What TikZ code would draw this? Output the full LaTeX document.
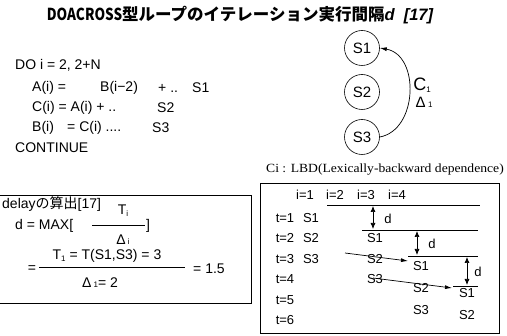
\documentclass[tikz,border=0pt]{standalone}
\usepackage{fontspec}
\setmainfont{Liberation Sans}
\newfontfamily\jp{Noto Sans CJK JP}
\newfontfamily\serifl{Liberation Serif}
\usetikzlibrary{arrows.meta}
\begin{document}
\begin{tikzpicture}[x=1pt,y=-1pt,
  code/.style={anchor=west,inner sep=0pt,font=\fontsize{14}{16}\selectfont},
  rt/.style={inner sep=0pt,font=\fontsize{13}{15}\selectfont},
  lt/.style={inner sep=0pt,font=\fontsize{14}{16}\selectfont},
  stmt/.style={draw,circle,minimum size=35pt,inner sep=0pt,line width=0.6pt,font=\fontsize{15}{17}\selectfont},
  thin/.style={line width=0.6pt},
  dbl/.style={line width=0.7pt,{Latex[length=6pt,width=5pt]}-{Latex[length=6pt,width=5pt]}},
  sarr/.style={line width=0.7pt,-{Latex[length=7pt,width=4pt]}}]
\useasboundingbox (0,0) rectangle (507,336);
% title
\node[inner sep=0pt,font=\fontsize{16.5}{18}\selectfont] (title) at (240,15)
  {{\jp\bfseries\scalebox{0.82}[1]{DOACROSS}型ループのイテレーション実行間隔}{\bfseries\itshape d\ \ [17]}};
% code
\node[code] (c0) at (15,65) {DO i = 2, 2+N};
\node[code] (c1a) at (32,88) {A(i) =};
\node[code] (c1b) at (100,88) {B(i−2)};
\node[code] (c1c) at (158,88) {+ ..};
\node[code] (c1d) at (192,88) {S1};
\node[code] (c2a) at (32,108) {C(i) = A(i) + ..};
\node[code] (c2b) at (157,108) {S2};
\node[code] (c3a) at (32,128) {B(i)};
\node[code] (c3b) at (67,128) {= C(i) ....};
\node[code] (c3c) at (152,128) {S3};
\node[code] (c4) at (15,148) {CONTINUE};
% graph
\node[stmt] (S1) at (362,48) {S1};
\node[stmt] (S2) at (362,92) {S2};
\node[stmt] (S3) at (362,137) {S3};
\draw[sarr] (S3.east) .. controls (418,130) and (420,55) .. (S1.east);
\node[inner sep=0pt,font=\fontsize{18}{20}\selectfont] (C1) at (422,85) {C\raisebox{-2pt}{\fontsize{8}{8}\selectfont 1}};
\node[inner sep=0pt,font=\fontsize{15}{17}\selectfont] (D1) at (424,102) {Δ\,{\fontsize{8}{8}\selectfont 1}};
\node[anchor=west,inner sep=0pt,font=\fontsize{12.5}{14}\serifl] (lbd) at (266,170) {\scalebox{1.09}[1]{Ci : LBD(Lexically-backward dependence)}};
% left box
\draw[line width=0.8pt] (-2,195) -- (251,195) -- (251,303) -- (-2,303);
\node[lt,anchor=west] (dl) at (2,204) {delay{\jp の算出}[17]};
\node[lt,anchor=west] (dmax) at (15,226) {d = MAX[};
\coordinate (f1l) at (92,225);
\coordinate (f1r) at (145,225);
\draw[thin] (f1l) -- (f1r);
\node[lt] (rb) at (148,226) {]};
\node[lt] (Ti) at (123,211) {T\raisebox{-2pt}{\fontsize{8}{8}\selectfont i}};
\node[lt] (Di) at (123,240) {Δ\,{\fontsize{8}{8}\selectfont i}};
\node[lt] (eq1) at (32,269) {=};
\node[lt] (T1) at (107,256) {T\raisebox{-2pt}{\fontsize{8}{8}\selectfont 1} = T(S1,S3) = 3};
\coordinate (f2l) at (39,267);
\coordinate (f2r) at (185,267);
\draw[thin] (f2l) -- (f2r);
\node[lt] (D1b) at (100,283) {Δ\,{\fontsize{8}{8}\selectfont 1}= 2};
\node[lt,anchor=west] (res) at (193,269) {= 1.5};
% right box
\draw[line width=0.8pt] (260,183) rectangle (499,333);
\node[rt] (i1) at (305,195) {i=1};
\node[rt] (i2) at (335,195) {i=2};
\node[rt] (i3) at (366,195) {i=3};
\node[rt] (i4) at (397,195) {i=4};
\foreach \k/\y in {1/218,2/238.5,3/259,4/279.5,5/300,6/320.5}
  \node[rt] (t\k) at (285,\y) {t=\k};
\node[rt] (a1) at (311,218) {S1};
\node[rt] (a2) at (311,238.5) {S2};
\node[rt] (a3) at (311,259) {S3};
\node[rt] (b1) at (375,238.5) {S1};
\node[rt] (b2) at (375,259) {S2};
\node[rt] (b3) at (375,279.5) {S3};
\node[rt] (e1) at (421,266) {S1};
\node[rt] (e2) at (421,288) {S2};
\node[rt] (e3) at (421,310) {S3};
\node[rt] (g1) at (467,293) {S1};
\node[rt] (g2) at (467,315) {S2};
% separator lines
\coordinate (L1a) at (327,205); \coordinate (L1b) at (480,205);
\coordinate (L2a) at (362,230); \coordinate (L2b) at (478,230);
\coordinate (L3a) at (408,256); \coordinate (L3b) at (478,256);
\coordinate (L4a) at (453,286); \coordinate (L4b) at (478,286);
\draw[thin] (L1a) -- (L1b);
\draw[thin] (L2a) -- (L2b);
\draw[thin] (L3a) -- (L3b);
\draw[thin] (L4a) -- (L4b);
% delay arrows
\coordinate (d1t) at (373,206); \coordinate (d1b) at (373,229);
\coordinate (d2t) at (417,231); \coordinate (d2b) at (417,255);
\coordinate (d3t) at (467,257); \coordinate (d3b) at (467,285);
\draw[dbl] (d1t) -- (d1b);
\draw[dbl] (d2t) -- (d2b);
\draw[dbl] (d3t) -- (d3b);
\node[rt] (dd1) at (388,219) {d};
\node[rt] (dd2) at (432,244) {d};
\node[rt] (dd3) at (478,272) {d};
% dependence arrows
\coordinate (A0) at (345,253); \coordinate (A1) at (408,261);
\coordinate (B0) at (373,278); \coordinate (B1) at (452,288);
\draw[sarr] (A0) -- (A1);
\draw[sarr] (B0) -- (B1);
\end{tikzpicture}
\end{document}
